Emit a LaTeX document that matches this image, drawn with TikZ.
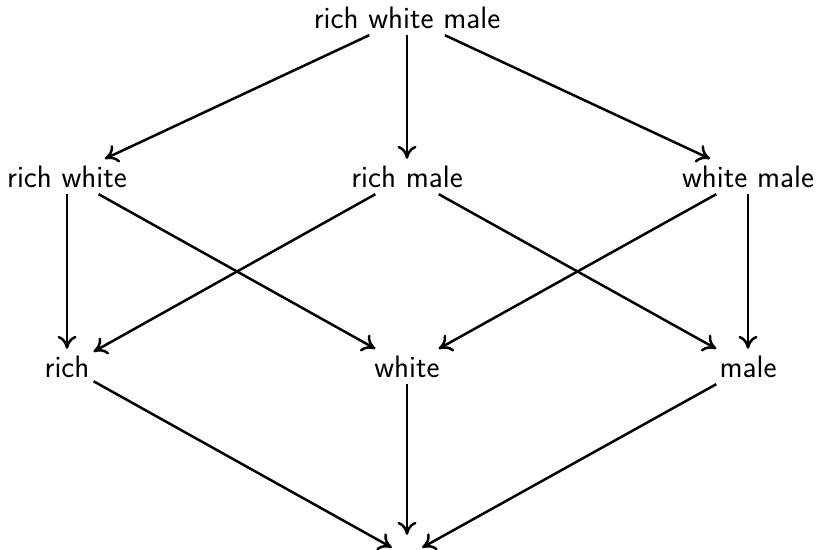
\documentclass[tikz,border=0pt]{standalone}
\usetikzlibrary{arrows.meta}
\begin{document}
\begin{tikzpicture}[x=1pt,y=-1pt,
  lbl/.style={font=\fontsize{31}{37}\selectfont\sffamily, anchor=base, inner sep=4pt, text height=24pt, text depth=3pt},
  edge/.style={line width=2.5pt, -{To[length=13pt,width=19pt]}}]
\useasboundingbox (0,0) rectangle (819,549);
\node[lbl] (rwm) at (407,28) {rich white male};
\node[lbl] (rw) at (67,187) {rich white};
\node[lbl] (rm) at (407,187) {rich male};
\node[lbl] (wm) at (748,187) {white male};
\node[lbl] (r) at (67,377) {rich};
\node[lbl] (w) at (407,377) {white};
\node[lbl] (m) at (748,377) {male};
\node[minimum width=30pt, minimum height=42pt, inner sep=0pt] (bot) at (407,556) {};
\draw[edge] (rwm) -- (rw);
\draw[edge] (rwm) -- (rm);
\draw[edge] (rwm) -- (wm);
\draw[edge] (rw) -- (r);
\draw[edge] (rw) -- (w);
\draw[edge] (rm) -- (r);
\draw[edge] (rm) -- (m);
\draw[edge] (wm) -- (w);
\draw[edge] (wm) -- (m);
\draw[edge] (r) -- (bot);
\draw[edge] (w) -- (bot);
\draw[edge] (m) -- (bot);
\end{tikzpicture}
\end{document}
